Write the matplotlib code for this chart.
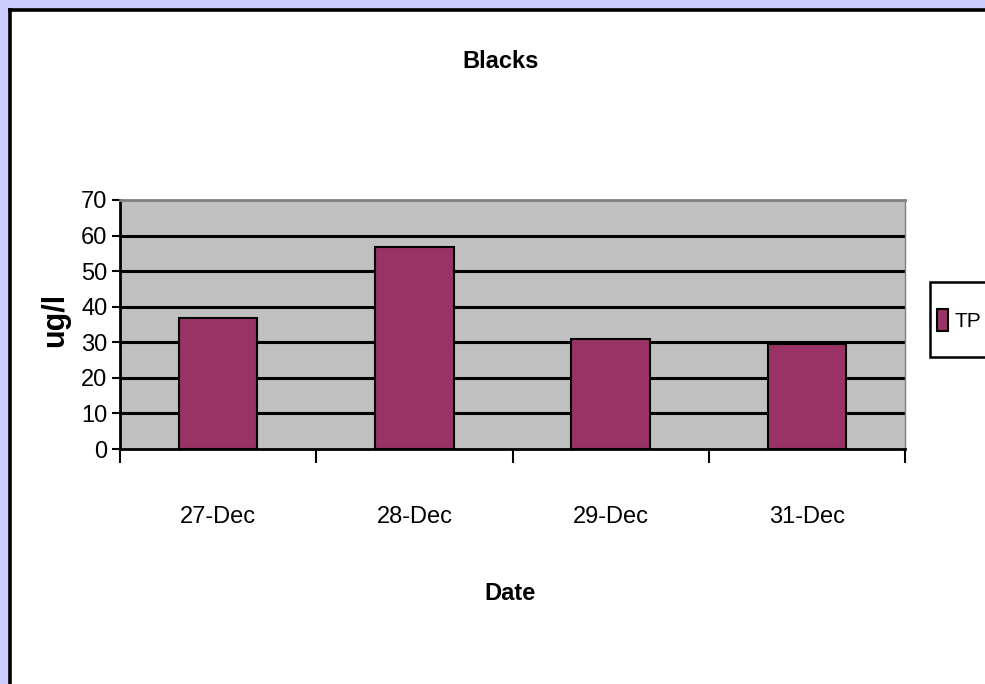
import matplotlib
matplotlib.use("Agg")
import matplotlib.pyplot as plt
from matplotlib.patches import Rectangle
from matplotlib.lines import Line2D

# --- Data ---
dates = ["27-Dec", "28-Dec", "29-Dec", "31-Dec"]
tp_values = [36.7, 56.7, 31.0, 29.6]
y_ticks = [0, 10, 20, 30, 40, 50, 60, 70]

FONT = ["Liberation Sans Narrow", "Liberation Sans", "DejaVu Sans"]

W, H = 985, 684
fig = plt.figure(figsize=(W / 100, H / 100), dpi=100, facecolor="#CCCCFF")

# white chart area with a black border on the left and top
fig.patches.append(Rectangle((9 / W, 0), 1, 1 - 9 / H, transform=fig.transFigure,
                             facecolor="white", edgecolor="none", zorder=-10))
fig.lines.append(Line2D([9.5 / W, 9.5 / W], [0, 1 - 9.5 / H], transform=fig.transFigure,
                        color="black", lw=2.6, zorder=-5))
fig.lines.append(Line2D([9.5 / W, 1], [1 - 9.5 / H, 1 - 9.5 / H], transform=fig.transFigure,
                        color="black", lw=2.6, zorder=-5))

# plot area in pixels: x 120..905, y 200..449 (from top)
ax = fig.add_axes([120 / W, (H - 449) / H, 785 / W, 249 / H])
ax.set_zorder(2)
ax.set_facecolor("#C0C0C0")

x = list(range(len(dates)))
bars = ax.bar(x, tp_values, width=0.4, color="#993366", edgecolor="black",
              linewidth=1.5, label="TP", zorder=3)

ax.set_xlim(-0.5, len(dates) - 0.5)
ax.set_ylim(0, 70)
ax.set_yticks(y_ticks)
ax.set_yticklabels([str(v) for v in y_ticks], fontfamily=FONT, fontsize=17)
for v in y_ticks[1:-1]:
    ax.axhline(v, color="black", lw=2.2, zorder=1)

# major ticks at category boundaries, labels in the middle
ax.set_xticks([i - 0.5 for i in range(len(dates) + 1)])
ax.set_xticklabels([])
ax.set_xticks(x, minor=True)
ax.set_xticklabels(dates, minor=True, fontfamily=FONT, fontsize=17)
ax.tick_params(axis="x", which="major", length=10, width=1.5, direction="out")
ax.tick_params(axis="x", which="minor", length=0, pad=41)
ax.tick_params(axis="y", length=6, width=1.5, pad=3)

for side in ["left", "bottom"]:
    ax.spines[side].set_color("black")
    ax.spines[side].set_linewidth(2)
ax.spines["top"].set_color("#808080")
ax.spines["top"].set_linewidth(2)
ax.spines["right"].set_color("#808080")
ax.spines["right"].set_linewidth(1)

# titles
fig.text(501 / W, 1 - 61 / H, "Blacks", ha="center", va="center",
         fontfamily=FONT, fontweight="bold", fontsize=17)
fig.text(510 / W, 1 - 593 / H, "Date", ha="center", va="center",
         fontfamily=FONT, fontweight="bold", fontsize=17)
fig.text(55 / W, 1 - 320 / H, "ug/l", ha="center", va="center", rotation=90,
         fontfamily=FONT, fontweight="bold", fontsize=22)

# legend: frame drawn separately (it runs off the right edge), entry inside it
fig.patches.append(Rectangle((929.5 / W, (H - 356.5) / H), 70 / W, 75 / H,
                             transform=fig.transFigure, facecolor="white",
                             edgecolor="black", linewidth=1.8, zorder=3))
leg = fig.legend(handles=[bars], labels=["TP"], loc="center left",
                 bbox_to_anchor=(937 / W, 1 - 320 / H), frameon=False,
                 handlelength=0.55, handleheight=1.3, handletextpad=0.3,
                 borderpad=0, borderaxespad=0,
                 prop={"family": FONT, "size": 15})
leg.set_zorder(4)

fig.savefig("out.png", dpi=100, facecolor=fig.get_facecolor())
